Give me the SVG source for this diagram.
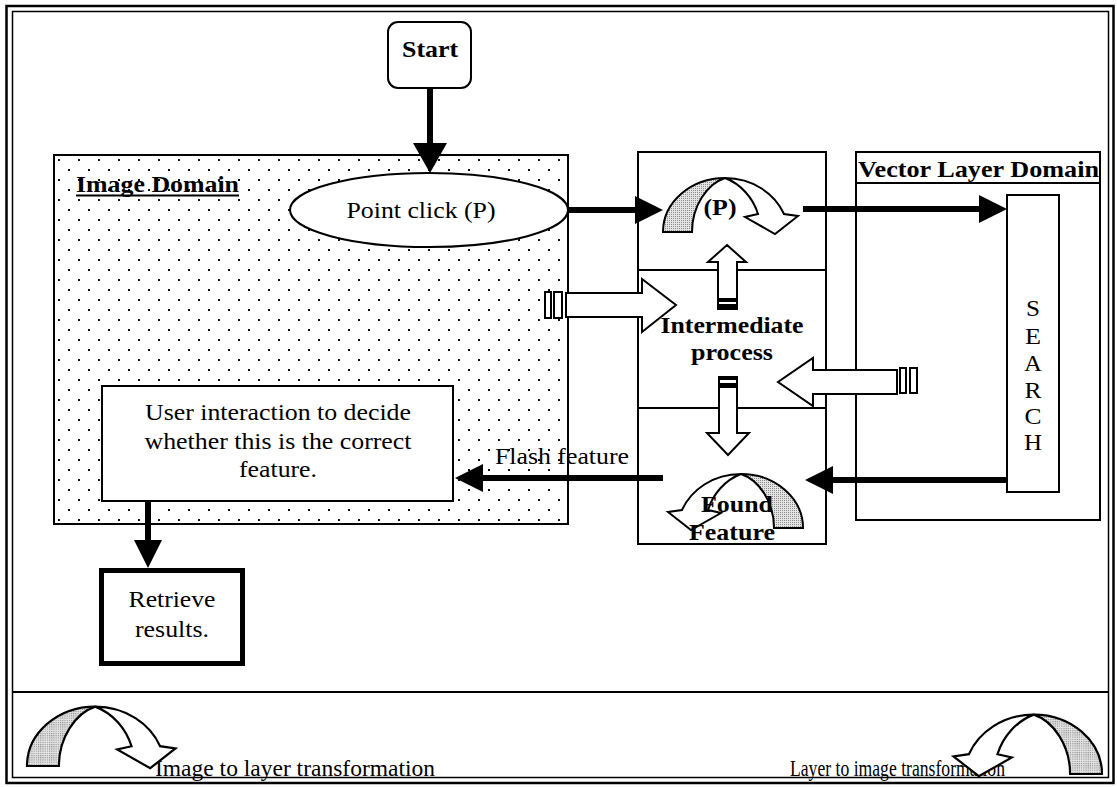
<svg xmlns="http://www.w3.org/2000/svg" width="1117" height="787" viewBox="0 0 1117 787">
  <style>
    .box{fill:#fff;stroke:#000;stroke-width:2}
    .t{font-family:"Liberation Serif","Times New Roman",serif;font-size:24px;fill:#000}
    .b{font-weight:bold}
    .mid{text-anchor:middle}
    .conn{stroke:#000;stroke-width:6;fill:none}
    .hollow{fill:#fff;stroke:#000;stroke-width:2}
  </style>
  <defs>
    <pattern id="dots" x="58" y="159" width="20" height="20" patternUnits="userSpaceOnUse">
      <rect width="20" height="20" fill="#fff"/>
      <rect x="0" y="0" width="2" height="2" fill="#111"/>
      <rect x="10" y="10" width="2" height="2" fill="#111"/>
    </pattern>
    <pattern id="grain" width="2" height="2" patternUnits="userSpaceOnUse">
      <rect width="2" height="2" fill="#e4e4e4"/>
      <rect width="1" height="1" fill="#8a8a8a"/>
    </pattern>
    <marker id="head" markerUnits="userSpaceOnUse" viewBox="0 0 28 28" markerWidth="28" markerHeight="28" refX="2" refY="14" orient="auto">
      <path d="M0,0 L28,14 L0,28 Z" fill="#000"/>
    </marker>
    <marker id="headL" markerUnits="userSpaceOnUse" viewBox="0 0 30 34" markerWidth="30" markerHeight="34" refX="2" refY="17" orient="auto">
      <path d="M0,0 L30,17 L0,34 Z" fill="#000"/>
    </marker>
    <!-- curved block arrow: shaded back on the left, head on the right -->
    <g id="curl">
      <path d="M0,0 C0,-30 28,-54 62,-54 C44,-48 29,-26 29,0 Z" fill="url(#grain)" stroke="#000" stroke-width="2"/>
      <path d="M62,-54 C90,-54 112,-38 121,-18 L135,-16 L112,2 L82,-15 L95,-18 C90,-34 78,-48 62,-54 Z" fill="#fff" stroke="#000" stroke-width="2"/>
    </g>
  </defs>

  <rect width="1117" height="787" fill="#fff"/>

  <!-- double frame -->
  <rect x="6.5" y="6" width="1107" height="777" fill="none" stroke="#000" stroke-width="2.5"/>
  <rect x="12.5" y="11.5" width="1096" height="766" fill="none" stroke="#000" stroke-width="1.5"/>
  <line x1="13" y1="692" x2="1108" y2="692" stroke="#000" stroke-width="2"/>

  <g id="image-domain">
    <rect x="54" y="155" width="514" height="369" fill="url(#dots)" stroke="#000" stroke-width="2"/>
    <text class="t b" x="76" y="192" textLength="163" lengthAdjust="spacingAndGlyphs">Image Domain</text>
    <line x1="76" y1="195.5" x2="239" y2="195.5" stroke="#000" stroke-width="2"/>
  </g>

  <g id="start">
    <rect class="box" x="388" y="22" width="83" height="66" rx="10"/>
    <text class="t b mid" x="430" y="57" textLength="56" lengthAdjust="spacingAndGlyphs">Start</text>
  </g>

  <g id="point-click">
    <ellipse class="box" cx="429" cy="210" rx="139" ry="37"/>
    <text class="t mid" x="421" y="218" textLength="149" lengthAdjust="spacingAndGlyphs">Point click (P)</text>
  </g>

  <g id="intermediate">
    <rect class="box" x="638" y="152" width="188" height="392"/>
    <line x1="638" y1="270" x2="826" y2="270" stroke="#000" stroke-width="2"/>
    <line x1="638" y1="408" x2="826" y2="408" stroke="#000" stroke-width="2"/>
    <use href="#curl" transform="translate(663,232)"/>
    <text class="t b mid" x="720" y="215" textLength="33" lengthAdjust="spacingAndGlyphs">(P)</text>
    <!-- up arrow -->
    <path class="hollow" d="M727,245 L746,262 L737,262 L737,309 L718,309 L718,262 L708,262 Z"/>
    <rect x="718" y="298" width="19" height="11" fill="#000"/>
    <rect x="719" y="302" width="17" height="2" fill="#fff"/>
    <text class="t b mid" x="732" y="333" textLength="143" lengthAdjust="spacingAndGlyphs">Intermediate</text>
    <text class="t b mid" x="732" y="360" textLength="82" lengthAdjust="spacingAndGlyphs">process</text>
    <!-- down arrow -->
    <path class="hollow" d="M719,377 L737,377 L737,433 L749,433 L728,455 L707,433 L719,433 Z"/>
    <rect x="719" y="377" width="18" height="11" fill="#000"/>
    <rect x="720" y="380" width="16" height="3" fill="#fff"/>
    <use href="#curl" transform="translate(803,528) scale(-1,1)"/>
    <text class="t b mid" x="737" y="512" textLength="72" lengthAdjust="spacingAndGlyphs">Found</text>
    <text class="t b mid" x="732" y="540" textLength="86" lengthAdjust="spacingAndGlyphs">Feature</text>
  </g>

  <g id="vector-layer-domain">
    <rect class="box" x="856" y="152" width="244" height="368"/>
    <line x1="856" y1="183" x2="1100" y2="183" stroke="#000" stroke-width="2"/>
    <text class="t b" x="858" y="177" textLength="241" lengthAdjust="spacingAndGlyphs">Vector Layer Domain</text>
  </g>

  <g id="search">
    <rect class="box" x="1007" y="195" width="52" height="297"/>
    <text class="t mid" x="1033" y="316" textLength="14" lengthAdjust="spacingAndGlyphs">S</text>
    <text class="t mid" x="1033" y="344" textLength="16" lengthAdjust="spacingAndGlyphs">E</text>
    <text class="t mid" x="1033" y="371" textLength="18" lengthAdjust="spacingAndGlyphs">A</text>
    <text class="t mid" x="1033" y="398" textLength="17" lengthAdjust="spacingAndGlyphs">R</text>
    <text class="t mid" x="1033" y="424" textLength="17" lengthAdjust="spacingAndGlyphs">C</text>
    <text class="t mid" x="1033" y="450" textLength="18" lengthAdjust="spacingAndGlyphs">H</text>
  </g>

  <g id="user-interaction">
    <rect class="box" x="102" y="386" width="351" height="115"/>
    <text class="t mid" x="278" y="420" textLength="266" lengthAdjust="spacingAndGlyphs">User interaction to decide</text>
    <text class="t mid" x="278" y="449" textLength="267" lengthAdjust="spacingAndGlyphs">whether this is the correct</text>
    <text class="t mid" x="278" y="477" textLength="78" lengthAdjust="spacingAndGlyphs">feature.</text>
  </g>

  <g id="retrieve-results">
    <rect x="101.5" y="570.5" width="141" height="93" fill="#fff" stroke="#000" stroke-width="5"/>
    <text class="t mid" x="172" y="607" textLength="87" lengthAdjust="spacingAndGlyphs">Retrieve</text>
    <text class="t mid" x="172" y="637" textLength="74" lengthAdjust="spacingAndGlyphs">results.</text>
  </g>

  <g id="connectors">
    <path class="conn" d="M430,88 V145" marker-end="url(#headL)"/>
    <path class="conn" d="M568,210 H637" marker-end="url(#head)"/>
    <path class="conn" d="M803,209 H981" marker-end="url(#head)"/>
    <path class="conn" d="M1007,480 H831" marker-end="url(#head)"/>
    <path class="conn" d="M663,478 H481" marker-end="url(#head)"/>
    <path class="conn" d="M148,501 V542" marker-end="url(#head)"/>
    <!-- hollow block arrows with split tails -->
    <rect class="hollow" x="545" y="292" width="6" height="26"/>
    <rect class="hollow" x="554" y="292" width="8" height="26"/>
    <path class="hollow" d="M566,293 L642,293 L642,279 L676,305 L642,332 L642,317 L566,317 Z"/>
    <rect class="hollow" x="900" y="368" width="6" height="25"/>
    <rect class="hollow" x="910" y="368" width="7" height="25"/>
    <path class="hollow" d="M897,370 L813,370 L813,358 L778,382 L813,406 L813,394 L897,394 Z"/>
    <text class="t" x="495" y="464" textLength="134" lengthAdjust="spacingAndGlyphs">Flash feature</text>
  </g>

  <g id="legend">
    <text class="t" x="155" y="776" textLength="280" lengthAdjust="spacingAndGlyphs">Image to layer transformation</text>
    <use href="#curl" transform="translate(27,766) scale(1.1)"/>
    <text class="t" x="790" y="776" style="font-size:23px" textLength="215" lengthAdjust="spacingAndGlyphs">Layer to image transformation</text>
    <use href="#curl" transform="translate(1102,774) scale(-1.1,1.1)"/>
  </g>
</svg>
